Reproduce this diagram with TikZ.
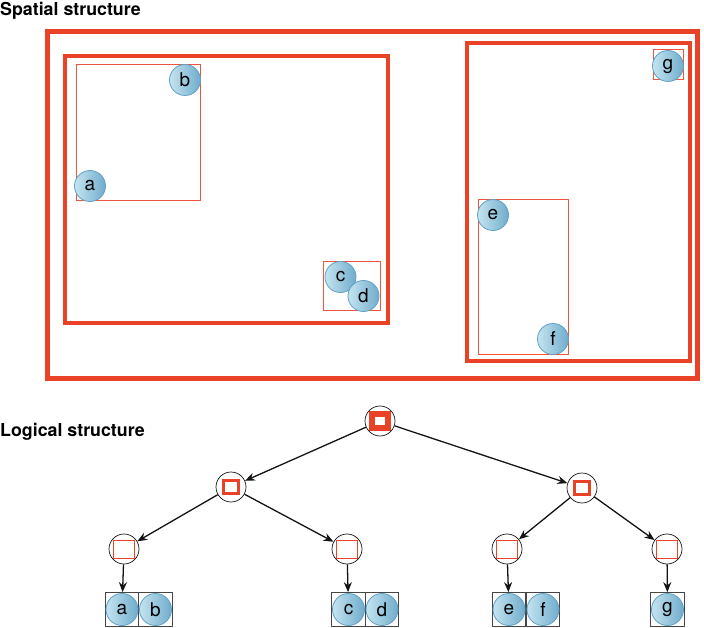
\documentclass[tikz,border=0pt]{standalone}
\usepackage{fontspec}
\setmainfont{TeX Gyre Heros}
\usepackage{tikz}
\usetikzlibrary{arrows.meta, positioning, calc}
\definecolor{myred}{RGB}{234,66,38}
\definecolor{mythinred}{RGB}{238,84,62}
\definecolor{ballhi}{RGB}{196,228,240}
\definecolor{balllo}{RGB}{112,172,204}
\definecolor{ballrim}{RGB}{98,160,196}
\definecolor{mydark}{RGB}{20,20,20}
\definecolor{boxgray}{RGB}{70,70,70}
\tikzset{
  heading/.style={anchor=base west, inner sep=0pt,
    font=\fontsize{17.8}{20}\selectfont\bfseries},
  bigframe/.style={draw=myred, line width=5pt},
  midframe/.style={draw=myred, line width=3.5pt},
  cellframe/.style={draw=mythinred, line width=1pt},
  ball/.style={circle, draw=ballrim, line width=0.8pt,
    left color=ballhi, right color=balllo,
    minimum size=31pt, inner sep=0pt, font=\fontsize{19}{22}\selectfont},
  treenode/.style={circle, draw=mydark, line width=0.7pt, fill=white,
    minimum size=30pt, inner sep=0pt},
  cellnode/.style n args={3}{treenode, path picture={
    \draw[myred, line width=#1pt]
      ($(path picture bounding box.center)+(-#2,-#3)$) rectangle
      ($(path picture bounding box.center)+(#2,#3)$);}},
  leafbox/.style={rectangle, draw=boxgray, line width=1.2pt,
    minimum size=33.5pt, inner sep=0pt},
  leafball/.style={ball, minimum size=32pt},
  arrow/.style={-{Stealth[length=10pt, width=8pt]}, line width=1.3pt, color=mydark}
}

\begin{document}
\begin{tikzpicture}[x=1pt, y=-1pt]
  \useasboundingbox (0,0) rectangle (704,628);

  % ── Spatial structure ───────────────────────────────────────────────────────
  \node[heading] (spatial) at (0,16) {Spatial structure};
  \draw[bigframe] (47,32) rectangle (697,378);
  \draw[midframe] (65,56) rectangle (388,323);
  \draw[midframe] (467,43) rectangle (690,361);
  % Cells
  \draw[cellframe] (76,65) rectangle (200,201);
  \draw[cellframe] (323,262) rectangle (380,311);
  \draw[cellframe] (653,50) rectangle (683,80);
  \draw[cellframe] (478,200) rectangle (568,354);
  % Objects
  \node[ball] (b) at (185,80) {b};
  \node[ball] (a) at (90,186) {a};
  \node[ball] (c) at (340.5,277) {c};
  \node[ball] (d) at (363.5,296) {d};
  \node[ball] (e) at (493,215) {e};
  \node[ball] (f) at (553,339) {f};
  \node[ball] (g) at (668,66) {g};

  % ── Logical structure ───────────────────────────────────────────────────────
  \node[heading] (logical) at (0,436) {Logical structure};
  \node[cellnode={6}{8}{7}] (root) at (380,421) {};
  \node[cellnode={3.3}{7.3}{6.3}] (nL) at (231,487) {};
  \node[cellnode={3.3}{7.3}{6.3}] (nR) at (582,488) {};
  \node[cellnode={1}{10.5}{9}] (nLL) at (124,549) {};
  \node[cellnode={1}{10.5}{9}] (nLR) at (347,549) {};
  \node[cellnode={1}{10.5}{9}] (nRL) at (507,549) {};
  \node[cellnode={1}{10.5}{9}] (nRR) at (667,549) {};
  % Leaves
  \node[leafbox] (boxa) at (122,609.5) {};
  \node[leafbox] (boxb) at (155.5,609.5) {};
  \node[leafbox] (boxc) at (348.5,609.5) {};
  \node[leafbox] (boxd) at (382,609.5) {};
  \node[leafbox] (boxe) at (509,609.5) {};
  \node[leafbox] (boxf) at (543,609.5) {};
  \node[leafbox] (boxg) at (667.5,609.5) {};
  \node[leafball] (la) at (boxa) {a};
  \node[leafball] (lb) at (boxb) {b};
  \node[leafball] (lc) at (boxc) {c};
  \node[leafball] (ld) at (boxd) {d};
  \node[leafball] (le) at (boxe) {e};
  \node[leafball] (lf) at (boxf) {f};
  \node[leafball] (lg) at (boxg) {g};
  % Edges
  \draw[arrow] (root) -- (nL);
  \draw[arrow] (root) -- (nR);
  \draw[arrow] (nL) -- (nLL);
  \draw[arrow] (nL) -- (nLR);
  \draw[arrow] (nR) -- (nRL);
  \draw[arrow] (nR) -- (nRR);
  \draw[arrow] (nLL) -- (boxa);
  \draw[arrow] (nLR) -- (boxc);
  \draw[arrow] (nRL) -- (boxe);
  \draw[arrow] (nRR) -- (boxg);
\end{tikzpicture}
\end{document}
